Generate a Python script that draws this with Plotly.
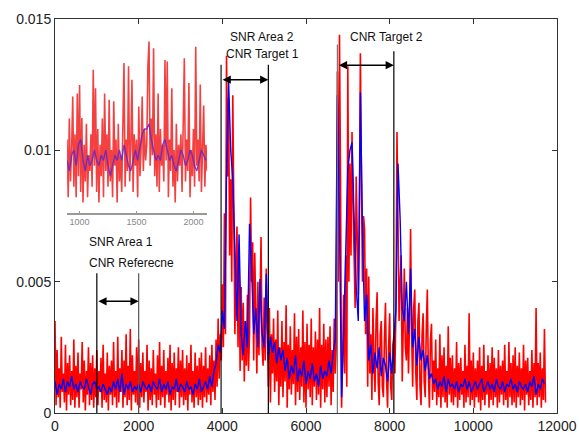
import plotly.graph_objects as go

# ---------------- data (signal values in units of 1e-3) ----------------
RED_START = 0
RED_STEP = 25
red_e3 = [
    3.5, 0.3, 2.4, 0.6, 1.7, 0.2, 2.9, 0.8, 1.5, 0.4, 2.6, 0.1, 1.9, 0.7, 2.2, 0.3, 1.6, 0.5, 2.8, 0.2,
    1.8, 0.6, 2.3, 0.2, 1.5, 0.9, 2.7, 0.4, 2.0, 0.1, 1.6, 0.7, 2.5, 0.3, 1.9, 0.5, 2.2, 0.2, 1.7, 0.6,
    2.4, 0.3, 1.6, 0.8, 2.1, 0.2, 2.6, 0.5, 1.5, 0.4, 2.3, 0.1, 1.8, 0.7, 2.0, 0.3, 2.7, 0.6, 1.6, 0.2,
    2.9, 0.4, 1.7, 0.8, 2.4, 0.2, 2.0, 0.6, 3.0, 0.3, 1.8, 0.5, 3.2, 0.1, 2.2, 0.7, 1.6, 0.4, 2.5, 0.3,
    2.8, 0.2, 1.9, 0.6, 2.3, 0.4, 1.6, 0.8, 2.6, 0.1, 2.0, 0.5, 1.7, 0.3, 2.4, 0.7, 1.5, 0.2, 2.2, 0.5,
    2.7, 0.3, 1.8, 0.6, 2.4, 0.2, 1.6, 0.7, 2.1, 0.4, 2.6, 0.1, 1.9, 0.5, 2.3, 0.3, 1.7, 0.8, 2.5, 0.2,
    2.0, 0.6, 2.4, 0.3, 1.7, 0.5, 2.2, 0.1, 1.9, 0.7, 2.6, 0.4, 1.6, 0.2, 2.3, 0.6, 1.8, 0.3, 2.1, 0.5,
    2.3, 0.2, 1.8, 0.6, 2.5, 0.4, 1.7, 0.7, 2.2, 0.3, 2.6, 0.8, 2.0, 0.5, 2.8, 1.0, 3.6, 1.3, 3.0, 2.0,
    4.9, 2.5, 7.6, 3.0, 13.6, 9.0, 12.0, 6.0, 8.9, 5.0, 12.1, 7.0, 3.0, 5.5, 7.1, 2.5, 6.0, 1.6, 4.8, 2.0,
    4.2, 1.2, 3.5, 1.8, 4.5, 1.6, 3.0, 8.2, 5.0, 6.5, 2.0, 6.1, 3.0, 1.5, 5.0, 2.2, 4.0, 6.7, 2.5, 1.8,
    4.4, 2.0, 5.5, 3.0, 1.0, 4.0, 0.4, 3.0, 1.5, 3.6, 0.8, 2.8, 1.2, 3.9, 0.3, 2.5, 1.0, 3.5, 0.6, 2.7,
    1.2, 4.1, 0.2, 2.6, 0.9, 3.3, 0.7, 2.4, 1.1, 3.8, 0.3, 2.9, 0.8, 3.2, 0.5, 2.5, 1.0, 3.9, 0.4, 2.7,
    0.2, 3.4, 0.9, 2.6, 0.6, 3.6, 0.3, 2.5, 1.0, 3.1, 0.5, 2.8, 0.7, 4.0, 0.2, 2.6, 0.9, 3.4, 0.4, 2.8,
    0.6, 2.9, 1.0, 3.3, 0.3, 2.4, 0.8, 3.6, 1.5, 2.6, 13.0, 5.0, 14.4, 9.0, 0.2, 2.0, 4.5, 1.5, 6.0, 1.0,
    13.2, 5.0, 9.5, 6.0, 10.7, 8.0, 6.0, 4.0, 9.0, 6.5, 4.5, 7.0, 13.7, 9.0, 5.0, 7.5, 7.0, 3.0, 5.5, 1.0,
    5.2, 1.5, 3.0, 0.5, 4.0, 2.0, 0.8, 3.5, 4.6, 1.2, 0.3, 3.0, 3.5, 1.0, 0.6, 2.8, 4.2, 1.3, 0.2, 2.5,
    3.8, 1.0, 0.5, 2.6, 2.9, 1.5, 4.0, 10.7, 6.0, 3.5, 5.0, 6.0, 1.2, 3.0, 5.5, 2.5, 2.0, 4.0, 1.5, 3.5,
    7.0, 3.0, 1.0, 4.0, 4.7, 1.5, 0.5, 3.5, 4.2, 1.0, 0.3, 3.0, 3.8, 1.2, 0.6, 3.2, 4.7, 1.5, 0.2, 2.8,
    3.4, 0.5, 2.0, 0.8, 2.8, 0.3, 1.7, 0.6, 3.0, 0.2, 2.2, 0.6, 2.5, 0.4, 1.8, 0.2, 3.3, 0.7, 2.1, 0.4,
    2.2, 0.3, 1.7, 0.6, 2.7, 0.2, 1.9, 0.5, 2.1, 0.7, 1.6, 0.2, 2.6, 0.4, 1.8, 0.6, 3.8, 0.3, 2.0, 0.5,
    2.3, 0.2, 1.7, 0.6, 2.0, 0.4, 2.5, 0.1, 1.8, 0.5, 2.6, 0.3, 1.6, 0.7, 2.2, 0.2, 1.9, 0.5, 2.5, 0.3,
    2.1, 0.6, 1.7, 0.2, 2.4, 0.4, 1.8, 0.7, 2.0, 0.3, 2.6, 0.5, 1.6, 0.2, 2.7, 0.6, 1.9, 0.3, 2.2, 0.4,
    2.5, 0.2, 1.8, 0.6, 2.3, 0.3, 1.7, 0.5, 2.6, 0.1, 2.0, 0.7, 2.1, 0.3, 1.6, 0.5, 2.4, 0.2, 1.9, 0.6,
    4.0, 0.3, 1.9, 0.6, 2.3, 0.2, 1.7, 0.5, 3.2, 0.4,
]
BLUE_START = 0
BLUE_STEP = 50
blue_e3 = [
    1.2, 0.7, 1.1, 0.9, 1.3, 0.8, 1.2, 1.0, 1.4, 0.9,
    1.1, 0.8, 1.2, 1.0, 0.9, 1.3, 1.0, 0.7, 1.1, 1.2,
    0.9, 1.0, 0.8, 1.1, 0.9, 0.7, 1.0, 0.8, 1.2, 0.9,
    1.3, 0.8, 1.5, 0.7, 1.1, 0.9, 1.2, 0.8, 1.0, 0.9,
    1.1, 0.8, 1.2, 1.0, 0.9, 1.1, 0.8, 1.2, 1.0, 0.9,
    1.3, 0.8, 1.1, 0.9, 1.2, 0.7, 1.0, 0.9, 1.3, 0.8,
    1.1, 1.0, 0.8, 1.2, 0.9, 1.0, 0.7, 1.1, 0.9, 1.3,
    0.8, 1.0, 1.2, 0.9, 1.4, 1.0, 1.6, 1.9, 2.6, 2.3,
    3.9, 3.2, 9.0, 12.6, 10.0, 8.9, 6.5, 3.5, 6.8, 3.0,
    2.2, 3.5, 2.5, 7.2, 5.5, 3.0, 4.0, 2.5, 5.1, 3.0,
    2.5, 5.3, 2.0, 2.9, 2.3, 2.7, 1.9, 2.5, 2.0, 2.4,
    1.6, 2.1, 1.3, 1.8, 1.5, 2.2, 1.2, 1.7, 1.4, 2.0,
    1.1, 1.6, 1.3, 1.9, 1.2, 1.5, 1.0, 1.8, 1.3, 1.6,
    1.4, 2.0, 1.5, 2.3, 2.8, 12.1, 7.3, 0.6, 3.0, 6.0,
    9.3, 10.0, 10.3, 7.4, 4.8, 3.5, 12.2, 7.0, 3.5, 4.5,
    2.0, 2.6, 1.5, 2.3, 1.7, 2.5, 1.4, 2.1, 1.8, 1.2,
    2.3, 1.5, 2.8, 4.0, 9.5, 7.4, 4.0, 3.5, 5.0, 3.0,
    5.5, 2.5, 3.2, 1.8, 2.9, 2.0, 2.4, 1.6, 2.2, 1.3,
    1.5, 1.1, 1.3, 0.9, 1.2, 1.0, 1.4, 0.8, 1.3, 1.0,
    1.1, 0.9, 1.2, 0.8, 1.1, 1.0, 1.3, 0.9, 1.2, 0.8,
    1.0, 1.2, 0.9, 1.1, 1.3, 0.8, 1.0, 1.2, 0.9, 1.1,
    0.8, 1.3, 1.0, 0.9, 1.2, 0.8, 1.1, 1.0, 1.3, 0.9,
    1.1, 0.8, 1.2, 1.0, 0.9, 1.1, 0.8, 1.2, 1.0, 1.4,
    0.7, 1.1, 0.9, 1.3, 1.1,
]

# inset (zoom of 890..2120)
INSET_RED_START = 890
INSET_RED_STEP = 10
inset_red_e3 = [
    1.4, 0.3, 1.8, 0.6, 1.2, 2.22, 0.5, 1.5, 0.3, 2.28,
    0.7, 2.44, 0.4, 1.81, 0.2, 1.3, 0.6, 1.7, 0.3, 1.1,
    0.8, 1.5, 0.5, 2.73, 0.9, 2.38, 0.4, 1.6, 0.2, 1.3,
    0.7, 1.8, 0.3, 2.28, 0.8, 1.5, 0.5, 2.16, 0.6, 1.2,
    0.3, 2.13, 0.9, 1.4, 0.2, 1.7, 0.6, 1.1, 0.4, 1.6,
    2.86, 0.5, 1.4, 0.8, 2.8, 0.6, 1.3, 2.54, 0.4, 1.5,
    0.9, 1.4, 0.3, 2.03, 0.7, 1.2, 2.22, 0.8, 1.6, 1.0,
    1.3, 2.8, 3.27, 0.9, 1.8, 1.1, 3.14, 0.7, 1.5, 0.5,
    2.28, 0.4, 1.6, 0.9, 1.3, 0.6, 2.92, 1.0, 2.89, 0.3,
    1.4, 0.8, 2.38, 0.5, 1.2, 0.2, 1.7, 0.6, 1.3, 0.9,
    1.5, 0.4, 1.8, 2.95, 0.6, 1.4, 0.8, 2.48, 0.3, 1.2,
    0.7, 1.6, 0.5, 3.17, 0.9, 1.4, 0.6, 2.45, 0.4, 1.1,
    2.05, 0.5, 1.3, 0.8,
]
INSET_BLUE_START = 890
INSET_BLUE_STEP = 20
inset_blue_e3 = [
    1.0, 0.8, 1.1, 1.2, 0.9, 1.3, 1.4, 1.0, 0.8, 1.1,
    0.9, 1.0, 1.2, 1.0, 0.9, 1.1, 1.0, 1.2, 0.9, 0.7,
    0.9, 1.1, 1.0, 1.2, 1.0, 1.3, 1.1, 0.9, 0.8, 1.0,
    1.2, 1.0, 1.3, 1.5, 1.6, 1.6, 1.7, 1.4, 1.2, 1.0,
    1.1, 1.0, 1.3, 1.4, 1.2, 1.0, 1.1, 0.9, 0.8, 1.0,
    1.2, 1.1, 0.9, 1.0, 1.2, 1.1, 0.9, 0.8, 1.0, 1.2,
    1.1, 1.0,
]

x_tick_vals = [0, 2000, 4000, 6000, 8000, 10000, 12000]
y_tick_vals = [0, 0.005, 0.01, 0.015]
inset_tick_vals = [1000, 1500, 2000]

# region markers
marker_x = [1000, 2000, 3970, 5100, 6750, 8100]
marker_top = [0.00532, 0.00532, 0.01326, 0.01326, 0.01403, 0.01377]
marker_color = ["#000000", "#555555", "#111111", "#000000", "#777777", "#000000"]
arrow_from = [1000, 3970, 6750]
arrow_to = [2000, 5100, 8100]
arrow_y = [0.00425, 0.01269, 0.01324]
label_text = ["SNR Area 1", "CNR Referecne", "SNR Area 2", "CNR Target 1", "CNR Target 2"]
label_x = [765, 765, 4960, 4960, 7925]
label_y = [0.00652, 0.00572, 0.01432, 0.01367, 0.01432]
label_anchor = ["left", "left", "center", "center", "center"]

E3 = 1e-3

def grid(start, step, n):
    return [start + step * i for i in range(n)]

fig = go.Figure()
fig.add_trace(go.Scatter(
    x=grid(RED_START, RED_STEP, len(red_e3)), y=[v * E3 for v in red_e3],
    mode="lines", line=dict(color="#ff0000", width=1.6), showlegend=False))
fig.add_trace(go.Scatter(
    x=grid(BLUE_START, BLUE_STEP, len(blue_e3)), y=[v * E3 for v in blue_e3],
    mode="lines", line=dict(color="#0000ff", width=1.4), showlegend=False))

fig.add_trace(go.Scatter(
    x=grid(INSET_RED_START, INSET_RED_STEP, len(inset_red_e3)),
    y=[v * E3 for v in inset_red_e3], xaxis="x2", yaxis="y2",
    mode="lines", line=dict(color="rgba(240,0,0,0.75)", width=1.6), showlegend=False))
fig.add_trace(go.Scatter(
    x=grid(INSET_BLUE_START, INSET_BLUE_STEP, len(inset_blue_e3)),
    y=[v * E3 for v in inset_blue_e3], xaxis="x2", yaxis="y2",
    mode="lines", line=dict(color="rgba(100,40,200,0.85)", width=1.4), showlegend=False))

shapes = []
for xv, top, col in zip(marker_x, marker_top, marker_color):
    shapes.append(dict(type="line", xref="x", yref="y", x0=xv, x1=xv, y0=0, y1=top,
                       line=dict(color=col, width=1.2)))

annotations = []
for a, b, yv in zip(arrow_from, arrow_to, arrow_y):
    annotations.append(dict(x=b, y=yv, ax=a, ay=yv, xref="x", yref="y", axref="x", ayref="y",
                            text="", showarrow=True, arrowhead=2, startarrowhead=2,
                            arrowside="end+start", arrowsize=1.1, startarrowsize=1.1,
                            arrowwidth=1.5, arrowcolor="#000000"))
for t, xv, yv, anc in zip(label_text, label_x, label_y, label_anchor):
    annotations.append(dict(x=xv, y=yv, xref="x", yref="y", text=t, showarrow=False,
                            xanchor=anc, yanchor="middle",
                            font=dict(family="Liberation Sans, Arial", size=12, color="#111111")))

fig.update_layout(
    width=579, height=438, autosize=False,
    margin=dict(l=55, r=22, t=19, b=25, autoexpand=False),
    paper_bgcolor="white", plot_bgcolor="white",
    font=dict(family="Liberation Sans, Arial", size=14, color="#222222"),
    shapes=shapes, annotations=annotations,
    xaxis=dict(range=[0, 12000], tickvals=x_tick_vals, tickformat="d", automargin=False,
               ticks="inside", ticklen=5, tickcolor="#333333",
               showline=True, linecolor="#333333", linewidth=1, mirror="ticks",
               showgrid=False, zeroline=False),
    yaxis=dict(range=[0, 0.015], tickvals=y_tick_vals, automargin=False,
               ticks="inside", ticklen=5, tickcolor="#333333",
               showline=True, linecolor="#333333", linewidth=1, mirror="ticks",
               showgrid=False, zeroline=False),
    xaxis2=dict(domain=[0.024, 0.303], anchor="y2", range=[890, 2120], automargin=False,
                tickvals=inset_tick_vals, tickformat="d", ticks="inside", ticklen=2,
                tickcolor="#999999", showline=True, linecolor="#999999", linewidth=1.5,
                showgrid=False, zeroline=False,
                tickfont=dict(size=9, color="#888888")),
    yaxis2=dict(domain=[0.508, 0.96], anchor="x2", range=[0, 0.0034], automargin=False,
                visible=False, showgrid=False, zeroline=False),
)

fig.write_html("out.html")
